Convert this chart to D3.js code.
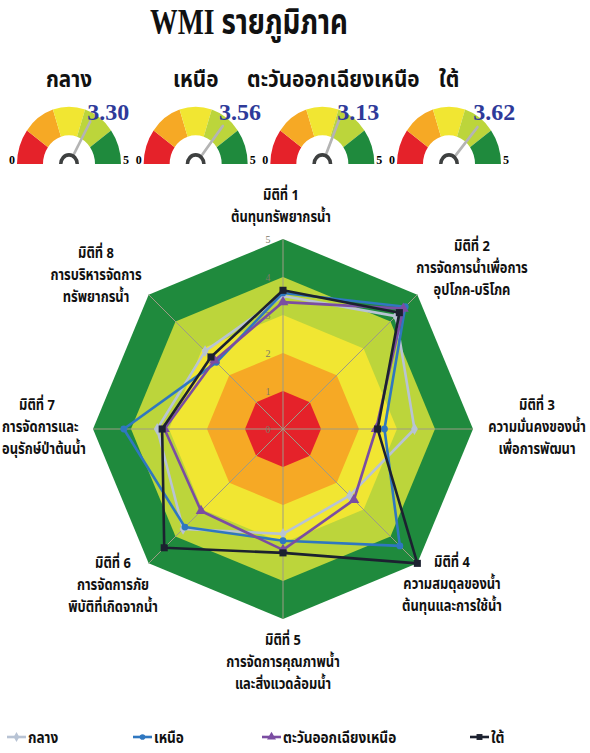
<!DOCTYPE html>
<html>
<head>
<meta charset="utf-8">
<script src="https://cdn.jsdelivr.net/npm/d3@7"></script>
<style>
  html, body { margin: 0; padding: 0; background: #fff; }
  svg { display: block; }
  .thai { font-family: "Noto Sans Thai", "Noto Sans", sans-serif; font-weight: 700; }
</style>
</head>
<body>
<svg id="chart" width="590" height="753"></svg>
<script>
// Regional WMI scores
const regions = ["กลาง", "เหนือ", "ตะวันออกเฉียงเหนือ", "ใต้"];
const wmiScores = [3.30, 3.56, 3.13, 3.62];
const gaugeTicks = ["0", "5"];

// Eight dimensions of the index (label lines)
const dimensions = [
  ["มิติที่ 1", "ต้นทุนทรัพยากรน้ำ"],
  ["มิติที่ 2", "การจัดการน้ำเพื่อการ", "อุปโภค-บริโภค"],
  ["มิติที่ 3", "ความมั่นคงของน้ำ", "เพื่อการพัฒนา"],
  ["มิติที่ 4", "ความสมดุลของน้ำ", "ต้นทุนและการใช้น้ำ"],
  ["มิติที่ 5", "การจัดการคุณภาพน้ำ", "และสิ่งแวดล้อมน้ำ"],
  ["มิติที่ 6", "การจัดการภัย", "พิบัติที่เกิดจากน้ำ"],
  ["มิติที่ 7", "การจัดการและ", "อนุรักษ์ป่าต้นน้ำ"],
  ["มิติที่ 8", "การบริหารจัดการ", "ทรัพยากรน้ำ"]
];

// Scores per dimension for each region
const centralScores   = [3.50, 4.20, 3.46, 2.48, 2.76, 3.72, 3.31, 2.90];
const northScores     = [3.58, 4.55, 2.67, 4.35, 2.94, 3.65, 4.19, 2.48];
const northeastScores = [3.34, 4.48, 2.45, 2.64, 3.18, 3.05, 3.12, 2.55];
const southScores     = [3.65, 4.33, 2.49, 5.00, 3.26, 4.42, 3.18, 2.68];

const radarTicks = [0, 1, 2, 3, 4, 5];
const bandLevels = [5, 4, 3, 2, 1];

// Colours
const bandColor = { 1: "#e5222a", 2: "#f6a925", 3: "#f1e632", 4: "#bcd53b", 5: "#1f8a3d" };
const seriesStyle = [
  { name: regions[0], values: centralScores,   color: "#b8c3d4", marker: d3.symbolDiamond, size: 40 },
  { name: regions[1], values: northScores,     color: "#2f77c0", marker: d3.symbolCircle,  size: 36 },
  { name: regions[2], values: northeastScores, color: "#7b4da2", marker: d3.symbolTriangle, size: 50 },
  { name: regions[3], values: southScores,     color: "#1c2130", marker: d3.symbolSquare,  size: 50 }
];

const svg = d3.select("#chart");

// Place a text at (x, y) squeezed horizontally by factor f; returns its drawn width
function placeCondensed(t, x, y, f) {
  t.attr("x", 0).attr("y", 0)
    .attr("transform", `translate(${x},${y}) scale(${f},1)`);
  return t.node().getComputedTextLength() * f;
}

// ---------- Title ----------
const title = svg.append("text")
  .attr("text-anchor", "middle")
  .attr("font-family", "'Liberation Serif', 'Noto Sans Thai', serif")
  .attr("font-weight", 700)
  .attr("font-size", 36)
  .attr("fill", "#111")
  .text("WMI รายภูมิภาค");
placeCondensed(title, 249, 34, 198 / title.node().getComputedTextLength());

// ---------- Gauges ----------
const gx = d3.scalePoint().domain(regions).range([69, 449]);
const gaugeY = 164;
const gOuter = 52, gInner = 26, gStretch = 1.1;
const gAngle = d3.scaleLinear().domain([0, 5]).range([-Math.PI / 2, Math.PI / 2]);
const gArc = d3.arc().innerRadius(gInner).outerRadius(gOuter);

regions.forEach((reg, i) => {
  const cx = gx(reg);
  const name = svg.append("text")
    .attr("class", "thai")
    .attr("text-anchor", "middle")
    .attr("font-size", 23)
    .attr("fill", "#111")
    .text(reg);
  placeCondensed(name, i === 2 ? cx + 11 : cx, 87, 0.9);

  const g = svg.append("g")
    .attr("transform", `translate(${cx},${gaugeY}) scale(1,${gStretch})`);
  bandLevels.slice().reverse().forEach(lv => {
    g.append("path")
      .attr("d", gArc({ startAngle: gAngle(lv - 1), endAngle: gAngle(lv) }))
      .attr("fill", bandColor[lv]);
  });

  // needle
  const a = gAngle(wmiScores[i]);
  g.append("line")
    .attr("x1", 11 * Math.sin(a)).attr("y1", -11 * Math.cos(a))
    .attr("x2", 44 * Math.sin(a)).attr("y2", -44 * Math.cos(a))
    .attr("stroke", "#b4b4b4").attr("stroke-width", 2.6)
    .attr("stroke-linecap", "round");
  // hub
  g.append("path")
    .attr("d", d3.arc().innerRadius(6.5).outerRadius(10)({ startAngle: -Math.PI / 2, endAngle: Math.PI / 2 }))
    .attr("fill", "#3e4040");

  // value label
  svg.append("text")
    .attr("x", cx + 36 * Math.sin(a) + 1).attr("y", gaugeY - 44)
    .attr("font-family", "'Liberation Serif', serif")
    .attr("font-weight", 700)
    .attr("font-size", 24)
    .attr("fill", "#2e3a99")
    .text(d3.format(".2f")(wmiScores[i]));

  // end ticks
  svg.append("text")
    .attr("x", cx - gOuter - 2).attr("y", gaugeY)
    .attr("text-anchor", "end")
    .attr("font-family", "'Liberation Serif', serif")
    .attr("font-weight", 700).attr("font-size", 12)
    .text(gaugeTicks[0]);
  svg.append("text")
    .attr("x", cx + gOuter + 2).attr("y", gaugeY)
    .attr("text-anchor", "start")
    .attr("font-family", "'Liberation Serif', serif")
    .attr("font-weight", 700).attr("font-size", 12)
    .text(gaugeTicks[1]);
});

// ---------- Radar ----------
const cx = 283, cy = 429;
const r = d3.scaleLinear().domain([0, 5]).range([0, 190]);
const nAxes = dimensions.length;
const angle = i => i * 2 * Math.PI / nAxes;
const radar = svg.append("g").attr("transform", `translate(${cx},${cy})`);
const ring = lv => d3.range(nAxes).map(i => [r(lv) * Math.sin(angle(i)), -r(lv) * Math.cos(angle(i))]);

// coloured bands, outermost first
bandLevels.forEach(lv => {
  radar.append("polygon")
    .attr("points", ring(lv).map(p => p.join(",")).join(" "))
    .attr("fill", bandColor[lv]);
});

// spokes
d3.range(nAxes).forEach(i => {
  radar.append("line")
    .attr("x1", 0).attr("y1", 0)
    .attr("x2", r(5) * Math.sin(angle(i))).attr("y2", -r(5) * Math.cos(angle(i)))
    .attr("stroke", "#9d9c86").attr("stroke-width", 1);
});

// tick labels along first axis
radar.selectAll("text.tick").data(radarTicks).enter().append("text")
  .attr("class", "tick")
  .attr("x", -15).attr("y", d => -r(d) + 4)
  .attr("text-anchor", "middle")
  .attr("font-family", "'Liberation Serif', serif")
  .attr("font-size", 10)
  .attr("fill", "#7d7a66")
  .text(d => d);

// series lines and markers
const line = d3.lineRadial()
  .angle((d, i) => angle(i))
  .radius(d => r(d))
  .curve(d3.curveLinearClosed);

seriesStyle.forEach(s => {
  radar.append("path")
    .attr("d", line(s.values))
    .attr("fill", "none")
    .attr("stroke", s.color)
    .attr("stroke-width", 2.6)
    .attr("stroke-linejoin", "round");
  radar.selectAll(null).data(s.values).enter().append("path")
    .attr("d", d3.symbol().type(s.marker).size(s.size))
    .attr("transform", (d, i) => `translate(${r(d) * Math.sin(angle(i))},${-r(d) * Math.cos(angle(i))})`)
    .attr("fill", s.color);
});

// dimension labels (first-line baseline anchors), kept inside the page edges
const labelAnchor = [[281, 200], [472, 251], [537, 410], [452, 567], [283, 645], [113, 568], [37, 410], [96, 258]];
const W = 590, squeeze = 0.86;
dimensions.forEach((lines, i) => {
  lines.forEach((ln, k) => {
    const t = svg.append("text")
      .attr("class", "thai")
      .attr("text-anchor", "middle")
      .attr("font-size", 15)
      .attr("fill", "#111")
      .text(ln);
    const y = labelAnchor[i][1] + k * 22;
    const half = placeCondensed(t, labelAnchor[i][0], y, squeeze) / 2;
    const x = Math.max(half + 2, Math.min(W - half - 2, labelAnchor[i][0]));
    placeCondensed(t, x, y, squeeze);
  });
});

// ---------- Legend ----------
const legendX = [7, 133, 262, 470];
seriesStyle.forEach((s, i) => {
  const lg = svg.append("g").attr("transform", `translate(${legendX[i]},737)`);
  lg.append("line").attr("x1", 0).attr("x2", 19).attr("y1", 0).attr("y2", 0)
    .attr("stroke", s.color).attr("stroke-width", 2.6);
  lg.append("path").attr("d", d3.symbol().type(s.marker).size(s.size * 0.7)())
    .attr("transform", "translate(9.5,0)").attr("fill", s.color);
  const t = lg.append("text")
    .attr("class", "thai")
    .attr("font-size", 16)
    .attr("fill", "#111")
    .text(s.name);
  placeCondensed(t, 21, 6, 0.85);
});
</script>
</body>
</html>
